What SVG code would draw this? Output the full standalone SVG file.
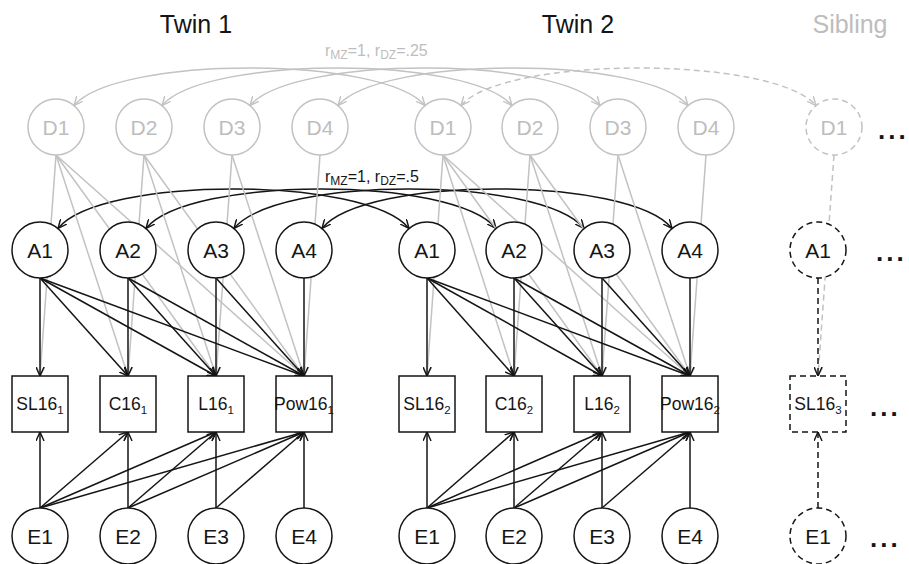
<svg xmlns="http://www.w3.org/2000/svg" width="909" height="564" viewBox="0 0 909 564">
<style>
text{font-family:"Liberation Sans",Arial,Helvetica,sans-serif;}
.title{font-size:25px;text-anchor:middle;fill:#151515;}
.titleg{font-size:25px;text-anchor:middle;fill:#bdbdbd;}
.lbl{font-size:21px;text-anchor:middle;fill:#151515;}
.lblg{font-size:21px;text-anchor:middle;fill:#bdbdbd;}
.blbl{font-size:17.5px;text-anchor:middle;fill:#151515;}
.sub{font-size:11.5px;}
.csub{font-size:12px;}
.cor{font-size:16px;fill:#151515;}
.corg{font-size:16px;fill:#bdbdbd;}
.dots{font-size:26px;font-weight:bold;letter-spacing:3px;fill:#151515;}
.nb{fill:#fff;stroke:#151515;stroke-width:1.5;}
.ng{fill:#fff;stroke:#c2c2c2;stroke-width:1.5;}
.dash{stroke-dasharray:6 4;}
.cb{fill:none;stroke:#151515;stroke-width:1.5;}
.cg{fill:none;stroke:#c2c2c2;stroke-width:1.5;}
</style>
<defs>
<marker id="ab" viewBox="0 0 10 10" refX="10" refY="5" markerWidth="9" markerHeight="9" markerUnits="userSpaceOnUse" orient="auto-start-reverse"><path d="M0,0.5 L10,5 L0,9.5" fill="none" stroke="#151515" stroke-width="1.6"/></marker>
<marker id="ag" viewBox="0 0 10 10" refX="10" refY="5" markerWidth="9" markerHeight="9" markerUnits="userSpaceOnUse" orient="auto-start-reverse"><path d="M0,0.5 L10,5 L0,9.5" fill="none" stroke="#c2c2c2" stroke-width="1.6"/></marker>
</defs>
<rect width="909" height="564" fill="#fff"/>

<g id="titles">
<text class="title" x="196" y="33">Twin 1</text>
<text class="title" x="578" y="33">Twin 2</text>
<text class="titleg" x="850" y="33">Sibling</text>
</g>

<g id="connectors">
<!-- D arcs -->
<g class="cg" marker-start="url(#ag)" marker-end="url(#ag)">
<path d="M74,105.5 C117,55.5 382,55.5 425,105.5"/>
<path d="M162,105.5 C205,55.5 469,55.5 512,105.5"/>
<path d="M250,105.5 C293,55.5 557,55.5 600,105.5"/>
<path d="M338,105.5 C381,55.5 645,55.5 688,105.5"/>
<path class="dash" d="M461,105.5 C504,55.5 773,55.5 816,105.5"/>
</g>
<!-- A arcs -->
<g class="cb" marker-start="url(#ab)" marker-end="url(#ab)">
<path d="M58,228.5 C101,175.8 366,175.8 409,228.5"/>
<path d="M146,228.5 C189,175.8 453,175.8 496,228.5"/>
<path d="M234,228.5 C277,175.8 541,175.8 584,228.5"/>
<path d="M322,228.5 C365,175.8 629,175.8 672,228.5"/>
</g>
<!-- D to boxes -->
<g class="cg" marker-end="url(#ag)">
<path d="M56,155 L40,376"/><path d="M56,155 L128,376"/><path d="M56,155 L216,376"/><path d="M56,155 L304,376"/>
<path d="M144,155 L128,376"/><path d="M144,155 L216,376"/><path d="M144,155 L304,376"/>
<path d="M232,155 L216,376"/><path d="M232,155 L304,376"/>
<path d="M320,155 L304,376"/>
<path d="M443,155 L427,376"/><path d="M443,155 L514,376"/><path d="M443,155 L602,376"/><path d="M443,155 L690,376"/>
<path d="M530,155 L514,376"/><path d="M530,155 L602,376"/><path d="M530,155 L690,376"/>
<path d="M618,155 L602,376"/><path d="M618,155 L690,376"/>
<path d="M706,155 L690,376"/>
<path class="dash" d="M834,155 L818,376"/>
</g>
<!-- A to boxes -->
<g class="cb" marker-end="url(#ab)">
<path d="M40,278 L40,376"/><path d="M40,278 L128,376"/><path d="M40,278 L216,376"/><path d="M40,278 L304,376"/>
<path d="M128,278 L128,376"/><path d="M128,278 L216,376"/><path d="M128,278 L304,376"/>
<path d="M216,278 L216,376"/><path d="M216,278 L304,376"/>
<path d="M304,278 L304,376"/>
<path d="M427,278 L427,376"/><path d="M427,278 L514,376"/><path d="M427,278 L602,376"/><path d="M427,278 L690,376"/>
<path d="M514,278 L514,376"/><path d="M514,278 L602,376"/><path d="M514,278 L690,376"/>
<path d="M602,278 L602,376"/><path d="M602,278 L690,376"/>
<path d="M690,278 L690,376"/>
<path class="dash" d="M818,278 L818,376"/>
</g>
<!-- E to boxes -->
<g class="cb" marker-end="url(#ab)">
<path d="M40,508 L40,432"/><path d="M40,508 L128,432"/><path d="M40,508 L216,432"/><path d="M40,508 L304,432"/>
<path d="M128,508 L128,432"/><path d="M128,508 L216,432"/><path d="M128,508 L304,432"/>
<path d="M216,508 L216,432"/><path d="M216,508 L304,432"/>
<path d="M304,508 L304,432"/>
<path d="M427,508 L427,432"/><path d="M427,508 L514,432"/><path d="M427,508 L602,432"/><path d="M427,508 L690,432"/>
<path d="M514,508 L514,432"/><path d="M514,508 L602,432"/><path d="M514,508 L690,432"/>
<path d="M602,508 L602,432"/><path d="M602,508 L690,432"/>
<path d="M690,508 L690,432"/>
<path class="dash" d="M818,508 L818,432"/>
</g>
<text class="corg" x="325" y="56">r<tspan class="csub" dy="3">MZ</tspan><tspan dy="-3">=1, r</tspan><tspan class="csub" dy="3">DZ</tspan><tspan dy="-3">=.25</tspan></text>
<text class="cor" x="325" y="182">r<tspan class="csub" dy="3">MZ</tspan><tspan dy="-3">=1, r</tspan><tspan class="csub" dy="3">DZ</tspan><tspan dy="-3">=.5</tspan></text>
</g>

<!-- D nodes -->
<g id="D1_t1"><circle class="ng" cx="56" cy="127" r="28"/><text class="lblg" x="56" y="134.5">D1</text></g>
<g id="D2_t1"><circle class="ng" cx="144" cy="127" r="28"/><text class="lblg" x="144" y="134.5">D2</text></g>
<g id="D3_t1"><circle class="ng" cx="232" cy="127" r="28"/><text class="lblg" x="232" y="134.5">D3</text></g>
<g id="D4_t1"><circle class="ng" cx="320" cy="127" r="28"/><text class="lblg" x="320" y="134.5">D4</text></g>
<g id="D1_t2"><circle class="ng" cx="443" cy="127" r="28"/><text class="lblg" x="443" y="134.5">D1</text></g>
<g id="D2_t2"><circle class="ng" cx="530" cy="127" r="28"/><text class="lblg" x="530" y="134.5">D2</text></g>
<g id="D3_t2"><circle class="ng" cx="618" cy="127" r="28"/><text class="lblg" x="618" y="134.5">D3</text></g>
<g id="D4_t2"><circle class="ng" cx="706" cy="127" r="28"/><text class="lblg" x="706" y="134.5">D4</text></g>
<g id="D1_sib"><circle class="ng dash" cx="834" cy="127" r="28"/><text class="lblg" x="834" y="134.5">D1</text></g>

<!-- A nodes -->
<g id="A1_t1"><circle class="nb" cx="40" cy="250" r="28"/><text class="lbl" x="40" y="257.5">A1</text></g>
<g id="A2_t1"><circle class="nb" cx="128" cy="250" r="28"/><text class="lbl" x="128" y="257.5">A2</text></g>
<g id="A3_t1"><circle class="nb" cx="216" cy="250" r="28"/><text class="lbl" x="216" y="257.5">A3</text></g>
<g id="A4_t1"><circle class="nb" cx="304" cy="250" r="28"/><text class="lbl" x="304" y="257.5">A4</text></g>
<g id="A1_t2"><circle class="nb" cx="427" cy="250" r="28"/><text class="lbl" x="427" y="257.5">A1</text></g>
<g id="A2_t2"><circle class="nb" cx="514" cy="250" r="28"/><text class="lbl" x="514" y="257.5">A2</text></g>
<g id="A3_t2"><circle class="nb" cx="602" cy="250" r="28"/><text class="lbl" x="602" y="257.5">A3</text></g>
<g id="A4_t2"><circle class="nb" cx="690" cy="250" r="28"/><text class="lbl" x="690" y="257.5">A4</text></g>
<g id="A1_sib"><circle class="nb dash" cx="818" cy="250" r="28"/><text class="lbl" x="818" y="257.5">A1</text></g>

<!-- boxes -->
<g id="SL16_1"><rect class="nb" x="12" y="376" width="56" height="56"/><text class="blbl" x="40" y="410">SL16<tspan class="sub" dy="4">1</tspan></text></g>
<g id="C16_1"><rect class="nb" x="100" y="376" width="56" height="56"/><text class="blbl" x="128" y="410">C16<tspan class="sub" dy="4">1</tspan></text></g>
<g id="L16_1"><rect class="nb" x="188" y="376" width="56" height="56"/><text class="blbl" x="216" y="410">L16<tspan class="sub" dy="4">1</tspan></text></g>
<g id="Pow16_1"><rect class="nb" x="276" y="376" width="56" height="56"/><text class="blbl" x="304" y="410">Pow16<tspan class="sub" dy="4">1</tspan></text></g>
<g id="SL16_2"><rect class="nb" x="399" y="376" width="56" height="56"/><text class="blbl" x="427" y="410">SL16<tspan class="sub" dy="4">2</tspan></text></g>
<g id="C16_2"><rect class="nb" x="486" y="376" width="56" height="56"/><text class="blbl" x="514" y="410">C16<tspan class="sub" dy="4">2</tspan></text></g>
<g id="L16_2"><rect class="nb" x="574" y="376" width="56" height="56"/><text class="blbl" x="602" y="410">L16<tspan class="sub" dy="4">2</tspan></text></g>
<g id="Pow16_2"><rect class="nb" x="662" y="376" width="56" height="56"/><text class="blbl" x="690" y="410">Pow16<tspan class="sub" dy="4">2</tspan></text></g>
<g id="SL16_3"><rect class="nb dash" x="790" y="376" width="56" height="56"/><text class="blbl" x="818" y="410">SL16<tspan class="sub" dy="4">3</tspan></text></g>

<!-- E nodes -->
<g id="E1_t1"><circle class="nb" cx="40" cy="536" r="28"/><text class="lbl" x="40" y="543.5">E1</text></g>
<g id="E2_t1"><circle class="nb" cx="128" cy="536" r="28"/><text class="lbl" x="128" y="543.5">E2</text></g>
<g id="E3_t1"><circle class="nb" cx="216" cy="536" r="28"/><text class="lbl" x="216" y="543.5">E3</text></g>
<g id="E4_t1"><circle class="nb" cx="304" cy="536" r="28"/><text class="lbl" x="304" y="543.5">E4</text></g>
<g id="E1_t2"><circle class="nb" cx="427" cy="536" r="28"/><text class="lbl" x="427" y="543.5">E1</text></g>
<g id="E2_t2"><circle class="nb" cx="514" cy="536" r="28"/><text class="lbl" x="514" y="543.5">E2</text></g>
<g id="E3_t2"><circle class="nb" cx="602" cy="536" r="28"/><text class="lbl" x="602" y="543.5">E3</text></g>
<g id="E4_t2"><circle class="nb" cx="690" cy="536" r="28"/><text class="lbl" x="690" y="543.5">E4</text></g>
<g id="E1_sib"><circle class="nb dash" cx="818" cy="536" r="28"/><text class="lbl" x="818" y="543.5">E1</text></g>

<g id="ellipses">
<text class="dots" x="878" y="139">...</text>
<text class="dots" x="876" y="261">...</text>
<text class="dots" x="870" y="416">...</text>
<text class="dots" x="870" y="547">...</text>
</g>
</svg>
